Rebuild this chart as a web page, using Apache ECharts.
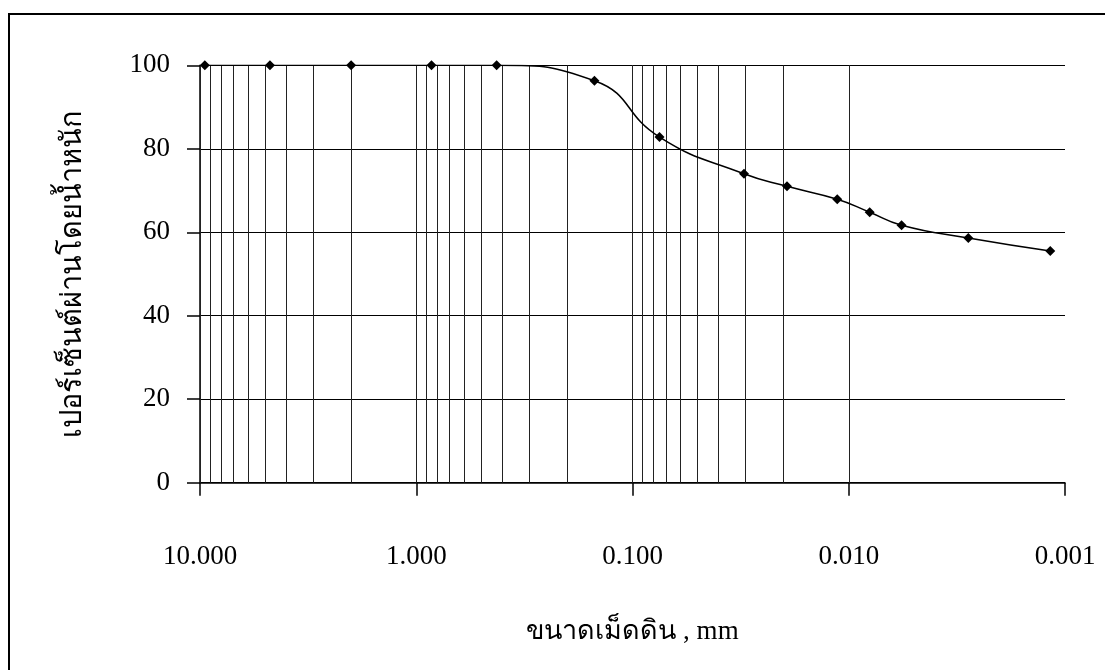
<!DOCTYPE html>
<html>
<head>
<meta charset="utf-8">
<script src="https://cdn.jsdelivr.net/npm/echarts@6/dist/echarts.min.js"></script>
<style>
html,body{margin:0;padding:0;background:#fff;}
#chart{width:1105px;height:670px;}
</style>
</head>
<body>
<div id="chart"></div>
<script>
// Grain size (mm) and percent passing
const grainSizes = [9.5, 4.75, 2.0, 0.85, 0.425, 0.15, 0.075, 0.0305, 0.0193, 0.0113, 0.0080, 0.0057, 0.0028, 0.00117];
const percentPassing = [100, 100, 100, 100, 100, 96.3, 82.8, 74.0, 71.0, 67.9, 64.8, 61.7, 58.6, 55.5];
const xTickLabels = {"10": "10.000", "1": "1.000", "0.1": "0.100", "0.01": "0.010", "0.001": "0.001"};
const yTicks = [0, 20, 40, 60, 80, 100];
const decades = [0.001, 0.01, 0.1, 1];
const multipliers = [1, 2, 3, 4, 5, 6, 7, 8, 9];
const xTitle = "ขนาดเม็ดดิน , mm";
const yTitle = "เปอร์เซ็นต์ผ่านโดยน้ำหนัก";

const gridValues = [];
decades.forEach(d => multipliers.forEach(m => gridValues.push(+(d * m).toPrecision(3))));
gridValues.push(10);

const FONT = '"Liberation Serif", "Times New Roman", serif';
const chart = echarts.init(document.getElementById('chart'));
chart.setOption({
  animation: false,
  backgroundColor: '#fff',
  graphic: [{
    type: 'rect', shape: {x: 9, y: 14, width: 1110, height: 680},
    style: {fill: 'none', stroke: '#000', lineWidth: 2}, silent: true
  }],
  grid: {left: 200, right: 40, top: 65.3, bottom: 187.3, containLabel: false},
  xAxis: {
    type: 'log', logBase: 10, min: 0.001, max: 10, inverse: true,
    name: xTitle, nameLocation: 'middle', nameGap: 136,
    nameTextStyle: {fontFamily: FONT, fontSize: 27, color: '#000'},
    axisLine: {show: true, lineStyle: {color: '#000', width: 1.5}},
    axisTick: {show: true, inside: false, length: 13, lineStyle: {color: '#000', width: 1.5}},
    axisLabel: {margin: 61, fontFamily: FONT, fontSize: 27, color: '#000',
      formatter: v => xTickLabels[String(+v.toPrecision(3))] || ''},
    splitLine: {show: false},
    minorTick: {show: false}
  },
  yAxis: {
    type: 'value', min: 0, max: 100, interval: 20,
    name: yTitle, nameLocation: 'middle', nameGap: 112, nameRotate: 90,
    nameTextStyle: {fontFamily: FONT, fontSize: 29, color: '#000'},
    axisLine: {show: true, lineStyle: {color: '#000', width: 1.5}},
    axisTick: {show: true, inside: false, length: 13, lineStyle: {color: '#000', width: 1.5}},
    axisLabel: {margin: 30, fontFamily: FONT, fontSize: 27, color: '#000',
      formatter: v => yTicks.indexOf(v) >= 0 ? String(v) : ''},
    splitLine: {show: true, lineStyle: {color: '#000', width: 1}}
  },
  series: [{
    type: 'line',
    data: grainSizes.map((s, i) => [s, percentPassing[i]]),
    smooth: 0.5,
    symbol: 'diamond', symbolSize: 10,
    itemStyle: {color: '#000'},
    lineStyle: {color: '#000', width: 1.5},
    z: 5,
    markLine: {
      silent: true, symbol: ['none', 'none'], label: {show: false},
      lineStyle: {color: '#222', width: 1, type: 'solid'},
      animation: false,
      data: gridValues.map(v => ({xAxis: v}))
    }
  }]
});
</script>
</body>
</html>
